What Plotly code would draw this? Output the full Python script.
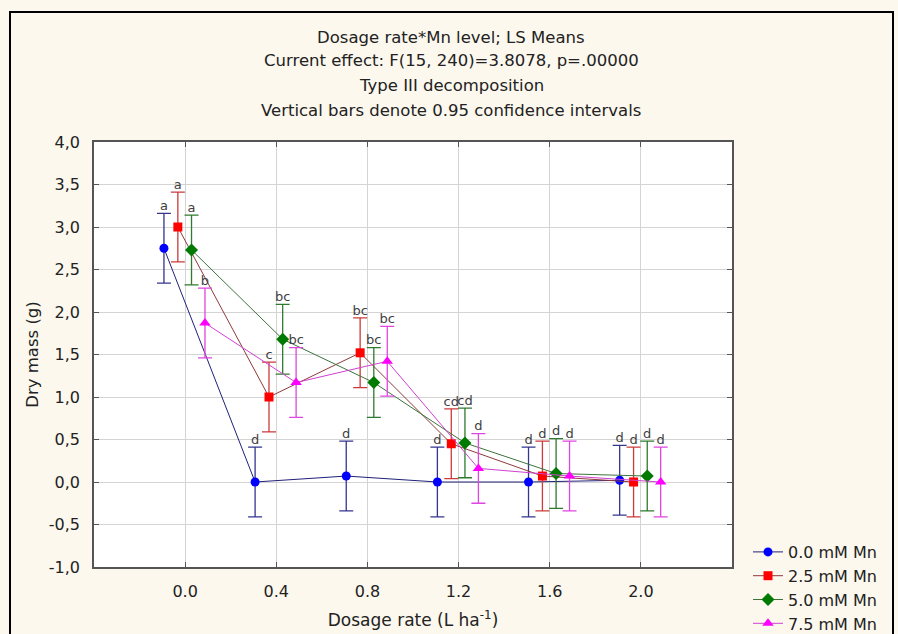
import plotly.graph_objects as go

# ---------------- data ----------------
dosage = [0.0, 0.4, 0.8, 1.2, 1.6, 2.0]
dosage_labels = ["0.0", "0.4", "0.8", "1.2", "1.6", "2.0"]

series_names = ["0.0 mM Mn", "2.5 mM Mn", "5.0 mM Mn", "7.5 mM Mn"]

mn_00 = [2.75, 0.00, 0.07, 0.00, 0.00, 0.02]
mn_25 = [3.00, 1.00, 1.52, 0.45, 0.07, 0.00]
mn_50 = [2.73, 1.68, 1.17, 0.46, 0.10, 0.07]
mn_75 = [1.87, 1.17, 1.42, 0.16, 0.07, 0.00]

ci_00 = [0.41, 0.41, 0.41, 0.41, 0.41, 0.41]
ci_25 = [0.41, 0.41, 0.41, 0.41, 0.41, 0.41]
ci_50 = [0.41, 0.41, 0.41, 0.41, 0.41, 0.41]
ci_75 = [0.41, 0.41, 0.41, 0.41, 0.41, 0.41]

letters_00 = ["a", "d", "d", "d", "d", "d"]
letters_25 = ["a", "c", "bc", "cd", "d", "d"]
letters_50 = ["a", "bc", "bc", "cd", "d", "d"]
letters_75 = ["b", "bc", "bc", "d", "d", "d"]

y_ticks = [-1.0, -0.5, 0.0, 0.5, 1.0, 1.5, 2.0, 2.5, 3.0, 3.5, 4.0]
y_tick_labels = ["-1,0", "-0,5", "0,0", "0,5", "1,0", "1,5", "2,0", "2,5", "3,0", "3,5", "4,0"]

title_lines = [
    "Dosage rate*Mn level; LS Means",
    "Current effect: F(15, 240)=3.8078, p=.00000",
    "Type III decomposition",
    "Vertical bars denote 0.95 confidence intervals",
]

# ---------------- styles ----------------
means = [mn_00, mn_25, mn_50, mn_75]
cis = [ci_00, ci_25, ci_50, ci_75]
letters = [letters_00, letters_25, letters_50, letters_75]
offsets = [-0.093, -0.032, 0.028, 0.087]
marker_colors = ["#0000ff", "#ff0000", "#007a00", "#ff00ff"]
line_colors = ["#20207a", "#8e3a3a", "#3d743d", "#d040d0"]
err_colors = ["#35358f", "#cc3a3a", "#2f7a2f", "#e045e0"]
symbols = ["circle", "square", "diamond", "triangle-up"]
sizes = [9, 9, 10, 10]

FONT = "DejaVu Sans"
PAPER = "#fcf8ee"

fig = go.Figure()

for i in range(4):
    xs = [d + offsets[i] for d in dosage]
    fig.add_trace(go.Scatter(
        x=xs, y=means[i], name=series_names[i],
        mode="lines+markers",
        line=dict(color=line_colors[i], width=1),
        marker=dict(symbol=symbols[i], color=marker_colors[i], size=sizes[i],
                    line=dict(width=0)),
        error_y=dict(type="data", array=cis[i], visible=True,
                     color=err_colors[i], thickness=1.3, width=7),
    ))

for i in range(4):
    xs = [d + offsets[i] for d in dosage]
    tops = [m + c for m, c in zip(means[i], cis[i])]
    fig.add_trace(go.Scatter(
        x=xs, y=tops, mode="text", text=letters[i],
        textposition="top center",
        textfont=dict(family=FONT, size=13, color="#404040"),
        showlegend=False, hoverinfo="skip",
    ))

# plot area in pixels: x 94..732, y 142..567
PL, PR, PT, PB = 94, 732, 142, 567
def px(x):
    return (x - PL) / (PR - PL)
def py(y):
    return (PB - y) / (PB - PT)

title_y = [37, 61, 85, 110]
for line, yy in zip(title_lines, title_y):
    fig.add_annotation(text=line, xref="paper", yref="paper",
                       x=px(451), y=py(yy), xanchor="center", yanchor="middle",
                       showarrow=False,
                       font=dict(family=FONT, size=16.5, color="#222222"))

# outer black frame
fig.add_shape(type="rect", xref="paper", yref="paper",
              x0=px(10), x1=px(893), y0=py(645), y1=py(12),
              line=dict(color="#000000", width=2), layer="above")

fig.update_layout(
    width=898, height=634,
    margin=dict(l=PL, r=898 - PR, t=PT, b=634 - PB, autoexpand=False),
    paper_bgcolor=PAPER, plot_bgcolor="#ffffff",
    font=dict(family=FONT, size=16, color="#222222"),
    showlegend=True,
    legend=dict(x=px(748), y=py(535), xanchor="left", yanchor="top",
                bgcolor="rgba(0,0,0,0)", font=dict(family=FONT, size=16, color="#222222"),
                tracegroupgap=0, itemwidth=30),
    xaxis=dict(range=[-0.4, 2.4], tickvals=dosage, ticktext=dosage_labels,
               showgrid=True, gridcolor="#d4d4d4", gridwidth=1,
               zeroline=False, showline=True, linecolor="#555555", linewidth=1.5,
               mirror="ticks", ticks="inside", ticklen=5, tickcolor="#555555",
               ticklabelstandoff=9,
               tickfont=dict(family=FONT, size=16, color="#222222"),
               title=dict(text="Dosage rate (L ha<sup>-1</sup>)", standoff=14,
                          font=dict(family=FONT, size=17, color="#222222"))),
    yaxis=dict(range=[-1, 4], tickvals=y_ticks, ticktext=y_tick_labels,
               showgrid=True, gridcolor="#d4d4d4", gridwidth=1,
               zeroline=False, showline=True, linecolor="#555555", linewidth=1.5,
               mirror="ticks", ticks="inside", ticklen=5, tickcolor="#555555",
               ticklabelstandoff=9,
               tickfont=dict(family=FONT, size=16, color="#222222"),
               title=dict(text="Dry mass (g)", standoff=6,
                          font=dict(family=FONT, size=16.5, color="#222222"))),
)

fig.write_html("out.html")
